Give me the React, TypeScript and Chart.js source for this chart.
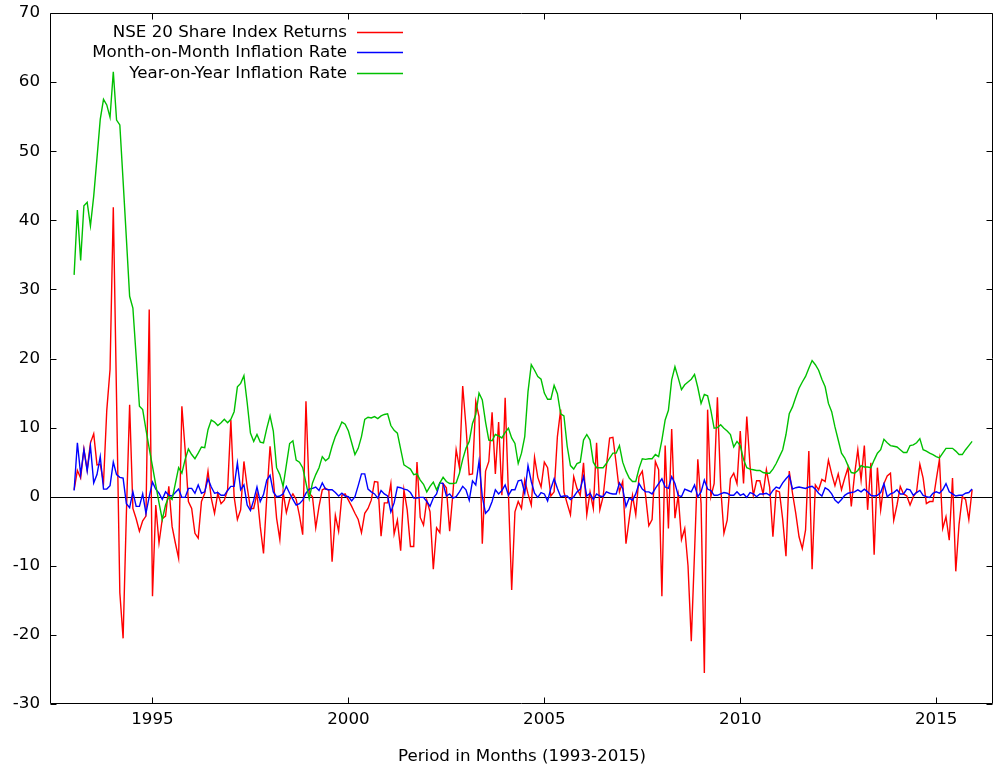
import { useEffect, useRef } from "react";
import { Chart, registerables } from "chart.js";

Chart.register(...registerables);

const START_YEAR = 1993;
const X_MIN = 1992.41;
const X_MAX = 2016.45;
const X_TICKS = [1995, 2000, 2005, 2010, 2015];
const Y_TICKS = [-30, -20, -10, 0, 10, 20, 30, 40, 50, 60, 70];
const X_TITLE = "Period in Months (1993-2015)";
const SERIES_LABELS = [
  "NSE 20 Share Index Returns",
  "Month-on-Month Inflation Rate",
  "Year-on-Year Inflation Rate",
];
const SERIES_COLORS = ["#ff0000", "#0000ff", "#00c000"];

// monthly values, Jan 1993 .. Dec 2015 (one row per year)
const NSE20_RETURNS = [
  1.0, 3.8, 2.7, 6.9, 3.9, 7.8, 9.1, 4.6, 4.7, 2.0, 12.5, 18.4,
  41.9, 14.0, -13.9, -20.5, -2.5, 13.3, -1.7, -3.2, -5.0, -3.5, -2.8, 27.1,
  -14.4, -1.2, -6.7, -3.2, -2.8, 1.5, -4.3, -6.7, -8.9, 13.1, 6.8, -0.7,
  -1.7, -5.3, -6.0, -0.7, 0.5, 3.7, -0.2, -2.4, 0.5, -1.0, -0.5, 1.0,
  11.1, 0, -3.3, -1.9, 5.1, 1.4, -1.7, -1.7, 0.5, -4.3, -8.2, 0,
  7.3, 2.5, -3.1, -6.2, 0.7, -2.3, -0.4, 0.4, -0.4, -2.7, -5.5, 13.8,
  0.5, 0, -4.5, -1.4, 1.0, 1.2, 0.9, -9.4, -2.7, -5.0, 0.2, 0.4,
  -0.5, -1.4, -2.4, -3.3, -5.2, -2.4, -1.7, -0.5, 2.2, 2.1, -5.7, -0.9,
  -0.9, 1.9, -5.4, -3.4, -7.8, 1.0, -1.9, -7.2, -7.2, 5.0, -3.0, -4.1,
  -0.5, -2.2, -10.5, -4.5, -5.2, 1.9, 1.3, -5.0, 0.5, 6.8, 4.2, 16.0,
  10.2, 3.2, 3.3, 13.8, 11.6, -6.8, 3.7, 5.1, 12.2, 3.3, 10.8, 0.2,
  14.3, 0.5, -13.5, -2.2, -0.7, -1.7, 2.4, 0.4, -1.2, 5.7, 2.8, 1.4,
  5.0, 4.2, 0.1, 0.7, 8.7, 12.6, 0.7, -1.0, -2.6, 2.9, 1.2, 0.2,
  4.9, -2.6, 0.7, -1.7, 7.8, -1.9, 0, 4.4, 8.5, 8.6, 4.8, 0.7,
  2.2, -6.8, -3.2, 0.2, -2.6, 2.9, 3.7, 0.2, -4.2, -3.3, 5.1, 3.9,
  -14.4, 7.4, -4.6, 9.8, -3.1, 0.2, -6.2, -4.6, -10.0, -20.9, -8.0, 5.4,
  -1.0, -25.5, 12.6, 0, 1.9, 14.4, 1.4, -5.3, -3.4, 2.6, 3.4, 1.9,
  9.5, 1.9, 11.6, 4.4, 0.2, 2.3, 2.3, 0.4, 3.9, 1.4, -5.8, 0.9,
  0.7, -3.3, -8.6, 3.7, 0.5, -2.4, -5.8, -7.5, -4.8, 6.6, -10.5, 1.7,
  1.0, 2.5, 2.2, 5.3, 3.3, 1.6, 3.3, 1.0, 2.7, 4.2, -1.4, 3.2,
  6.8, 2.4, 7.4, -1.9, 4.9, -8.4, 4.2, -1.9, 1.9, 3.0, 3.4, -3.4,
  -1.2, 1.5, 0.4, 0.1, -1.2, 0, 0.7, 4.7, 2.7, -1.0, -0.7, -0.7,
  2.4, 5.4, -4.6, -2.9, -6.3, 2.7, -10.8, -4.0, 0, -0.4, -3.3, 1.0,
];

const MOM_INFLATION = [
  0.9, 7.8, 3.2, 6.8, 3.7, 7.3, 2.0, 3.2, 5.8, 1.1, 1.1, 1.6,
  5.0, 3.2, 2.8, 2.7, -1.0, -1.6, 0.7, -1.4, -1.4, 0.4, -2.4, 0,
  2.1, 1.1, 0.5, -0.4, 0.7, 0.2, 0.1, 0.6, 1.1, -0.1, -0.1, 1.2,
  1.2, 0.5, 1.7, 0.5, 0.7, 2.6, 1.4, 0.5, 0.6, 0.2, 0.2, 0.9,
  1.5, 1.5, 4.9, 1.0, 1.7, -1.2, -2.0, -0.5, 1.4, -0.7, 0.3, 2.4,
  3.1, 0.7, 0, 0.1, 0.4, 1.5, 0.5, -0.4, -1.2, -1.0, -0.5, 0.5,
  1.1, 1.2, 1.4, 0.9, 2.0, 1.1, 1.0, 1.0, 0.6, 0.1, 0.5, 0.1,
  0, -0.6, 0, 1.6, 3.3, 3.3, 1.1, 0.7, 0.4, -0.2, 0.9, 0.4,
  0.1, -2.2, -0.9, 1.4, 1.3, 1.1, 1.0, 0.6, -0.2, -0.2, -0.1, -0.1,
  -0.7, -1.4, -0.2, 0.4, 2.0, 1.9, 0.1, 0.4, -0.2, 0, 0.7, 1.5,
  1.0, -0.5, 2.3, 1.7, 5.1, 0, -2.4, -1.9, -0.7, 1.0, 0.4, 0.9,
  1.7, 0.2, 1.0, 1.0, 2.3, 2.4, 0.5, 4.5, 2.2, 0.5, -0.1, 0.6,
  0.4, -0.6, 1.2, 2.6, 1.2, 0, 0.1, 0.1, -0.4, 0, 0.7, 1.1,
  2.9, 0.1, 0.5, -0.4, 0.4, 0.1, 0, 0.7, 0.5, 0.4, 0.4, 2.0,
  1.2, -1.4, -0.2, -0.5, 0.4, 1.9, 1.1, 0.7, 0.7, 0.4, 1.2, 1.9,
  2.6, 1.4, 1.2, 2.9, 1.9, 0.2, 0, 1.1, 0.9, 0.7, 1.7, 0,
  0.7, 2.4, 1.1, 0.9, 0.2, 0.2, 0.4, 0.6, 0.5, 0.2, 0.2, 0.7,
  0.2, 0.4, -0.1, 0.6, 0.4, 0, 0.4, 0.4, 0.5, 0.2, 0.9, 1.4,
  1.2, 2.0, 2.6, 3.1, 1.1, 1.3, 1.4, 1.3, 1.2, 1.4, 1.5, 1.1,
  0.5, 0.1, 1.3, 1.0, 0.4, -0.5, -0.9, -0.4, 0.2, 0.5, 0.6, 0.7,
  1.0, 0.7, 1.1, 0.7, 0.2, 0.1, 0.2, 0.6, 1.9, 0, 0.4, 0.6,
  1.0, 0.4, 0.4, 1.1, 1.0, 0.2, 0.6, 0.9, 0.2, 0, -0.1, 0.5,
  0.7, 0.5, 1.0, 1.9, 0.7, 0.4, 0.1, 0.2, 0.2, 0.5, 0.6, 1.1,
];

const YOY_INFLATION = [
  32.1, 41.5, 34.2, 42.1, 42.6, 39.2, 43.5, 49.0, 54.6, 57.5, 56.7, 54.9,
  61.5, 54.5, 53.8, 45.7, 37.4, 29.0, 27.3, 20.3, 13.1, 12.6, 9.7, 7.0,
  4.4, 1.7, -0.9, -3.3, -1.2, 0, -0.4, 1.9, 4.2, 3.4, 5.4, 6.9,
  6.1, 5.5, 6.3, 7.2, 7.1, 9.7, 11.1, 10.8, 10.3, 10.7, 11.2, 10.7,
  11.2, 12.3, 15.9, 16.4, 17.5, 13.6, 9.2, 8.0, 9.0, 7.9, 7.8, 9.9,
  11.7, 9.5, 4.2, 3.2, 1.5, 4.6, 7.7, 8.1, 5.3, 5.0, 4.2, 2.0,
  -0.3, 2.0, 3.2, 4.2, 5.8, 5.2, 5.6, 7.3, 8.7, 9.7, 10.8, 10.5,
  9.5, 7.8, 6.1, 7.0, 8.7, 11.2, 11.5, 11.4, 11.6, 11.3, 11.7, 11.9,
  12.0, 10.3, 9.6, 9.2, 6.9, 4.6, 4.3, 4.0, 3.2, 3.3, 2.4, 1.8,
  0.7, 1.5, 2.1, 1.0, 2.0, 2.8, 2.2, 1.9, 1.9, 2.0, 3.4, 5.4,
  7.0, 8.0, 10.6, 11.9, 15.0, 14.0, 10.8, 8.2, 8.1, 9.0, 8.8, 8.5,
  9.3, 9.9, 8.5, 7.7, 4.8, 6.3, 8.7, 15.2, 19.1, 18.3, 17.4, 17.0,
  15.0, 14.1, 14.1, 16.1, 14.9, 12.0, 11.7, 7.3, 4.5, 4.0, 4.8, 5.0,
  8.2, 9.0, 8.2, 5.0, 4.2, 4.2, 4.2, 4.8, 5.6, 6.3, 6.3, 7.4,
  5.0, 3.7, 2.7, 2.2, 2.2, 4.1, 5.5, 5.4, 5.5, 5.5, 6.1, 5.8,
  8.2, 11.1, 12.5, 16.9, 18.8, 17.2, 15.5, 16.2, 16.6, 17.0, 17.7, 15.8,
  13.5, 14.8, 14.6, 12.5, 9.9, 10.0, 10.4, 9.9, 9.5, 9.0, 7.2, 8.0,
  7.4, 5.4, 4.2, 4.0, 3.9, 3.8, 3.8, 3.5, 3.4, 3.4, 4.0, 4.8,
  5.8, 6.8, 9.0, 12.0, 13.0, 14.4, 15.7, 16.6, 17.4, 18.6, 19.7, 19.1,
  18.3, 17.0, 15.9, 13.5, 12.3, 10.1, 8.2, 6.3, 5.6, 4.5, 3.5, 3.4,
  3.8, 4.5, 4.3, 4.3, 4.2, 5.3, 6.3, 6.8, 8.3, 7.8, 7.4, 7.3,
  7.2, 6.8, 6.4, 6.4, 7.4, 7.5, 7.8, 8.4, 6.8, 6.6, 6.3, 6.1,
  5.8, 5.6, 6.3, 7.0, 7.0, 7.0, 6.6, 6.1, 6.1, 6.8, 7.4, 8.0,
];

const FONT_FAMILY = "'DejaVu Sans', sans-serif";
const FONT_SIZE = 16.7;

const toPoints = (values: number[]) =>
  values.map((v, i) => ({ x: START_YEAR + i / 12, y: v }));

const framePlugin = {
  id: "gnuplotFrame",
  beforeDatasetsDraw(chart: any) {
    const { ctx, chartArea: a, scales } = chart;
    const y0 = Math.round(scales.y.getPixelForValue(0)) + 0.5;
    ctx.save();
    ctx.strokeStyle = "#000";
    ctx.lineWidth = 1;
    ctx.beginPath();
    ctx.moveTo(a.left, y0);
    ctx.lineTo(a.right, y0);
    ctx.stroke();
    ctx.restore();
  },
  afterDatasetsDraw(chart: any) {
    const { ctx, chartArea: a, scales } = chart;
    const L = Math.round(a.left) - 0.5;
    const R = Math.round(a.right) - 0.5;
    const T = Math.round(a.top) + 0.5;
    const B = Math.round(a.bottom) - 0.5;
    const tick = 6;
    ctx.save();
    ctx.strokeStyle = "#000";
    ctx.lineWidth = 1;
    ctx.beginPath();
    ctx.rect(L, T, R - L, B - T);
    X_TICKS.forEach((v) => {
      const px = Math.round(scales.x.getPixelForValue(v)) + 0.5;
      ctx.moveTo(px, B);
      ctx.lineTo(px, B - tick);
      ctx.moveTo(px, T);
      ctx.lineTo(px, T + tick);
    });
    Y_TICKS.forEach((v) => {
      const py = Math.round(scales.y.getPixelForValue(v)) + 0.5;
      ctx.moveTo(L, py);
      ctx.lineTo(L + tick, py);
      ctx.moveTo(R, py);
      ctx.lineTo(R - tick, py);
    });
    ctx.stroke();
    ctx.restore();

    // key (legend), gnuplot style: text right-aligned, sample line to the right
    SERIES_LABELS.forEach((label, k) => {
      const yy = Math.round(a.top + 18.5 + k * 20.5) + 0.5;
      ctx.save();
      ctx.font = `${FONT_SIZE}px ${FONT_FAMILY}`;
      ctx.textAlign = "right";
      ctx.textBaseline = "middle";
      ctx.fillStyle = "#000";
      ctx.fillText(label, a.left + 296, yy);
      ctx.lineWidth = 1.4;
      ctx.strokeStyle = SERIES_COLORS[k];
      ctx.beginPath();
      ctx.moveTo(a.left + 306, yy);
      ctx.lineTo(a.left + 352, yy);
      ctx.stroke();
      ctx.restore();
    });
  },
};

export default function App() {
  const canvasRef = useRef<HTMLCanvasElement | null>(null);

  useEffect(() => {
    const canvas = canvasRef.current;
    if (!canvas) return;
    const seriesValues = [NSE20_RETURNS, MOM_INFLATION, YOY_INFLATION];
    const chart = new Chart(canvas, {
      type: "line",
      data: {
        datasets: seriesValues.map((vals, k) => ({
          label: SERIES_LABELS[k],
          data: toPoints(vals),
          borderColor: SERIES_COLORS[k],
          backgroundColor: SERIES_COLORS[k],
          borderWidth: 1.4,
          pointRadius: 0,
          tension: 0,
          fill: false,
          order: 3 - k,
        })),
      },
      options: {
        responsive: false,
        animation: false,
        devicePixelRatio: 1,
        layout: { padding: { left: 0, top: 13, right: 3, bottom: 0 } },
        plugins: {
          legend: { display: false },
          tooltip: { enabled: false },
        },
        scales: {
          x: {
            type: "linear",
            min: X_MIN,
            max: X_MAX,
            grid: { display: false, drawTicks: false },
            border: { display: false },
            afterBuildTicks: (axis: any) => {
              axis.ticks = X_TICKS.map((v) => ({ value: v }));
            },
            afterFit: (axis: any) => {
              axis.height = 65;
              axis.paddingLeft = 0;
              axis.paddingRight = 0;
            },
            ticks: {
              padding: 6,
              maxRotation: 0,
              autoSkip: false,
              color: "#000",
              font: { family: FONT_FAMILY, size: FONT_SIZE },
              callback: (v: any) => String(v),
            },
            title: {
              display: true,
              text: X_TITLE,
              color: "#000",
              font: { family: FONT_FAMILY, size: FONT_SIZE },
              padding: { top: 0, bottom: 2 },
            },
          },
          y: {
            type: "linear",
            min: -30,
            max: 70,
            grid: { display: false, drawTicks: false },
            border: { display: false },
            afterBuildTicks: (axis: any) => {
              axis.ticks = Y_TICKS.map((v) => ({ value: v }));
            },
            afterFit: (axis: any) => {
              axis.width = 51;
              axis.paddingTop = 0;
              axis.paddingBottom = 0;
            },
            ticks: {
              padding: 11,
              color: "#000",
              font: { family: FONT_FAMILY, size: FONT_SIZE },
              callback: (v: any) => String(v),
            },
          },
        },
      },
      plugins: [framePlugin],
    });
    return () => chart.destroy();
  }, []);

  return (
    <div
      style={{
        position: "fixed",
        left: 0,
        top: 0,
        width: 996,
        height: 769,
        background: "#fff",
      }}
    >
      <canvas
        ref={canvasRef}
        width={996}
        height={769}
        style={{ width: 996, height: 769, display: "block" }}
      />
    </div>
  );
}
